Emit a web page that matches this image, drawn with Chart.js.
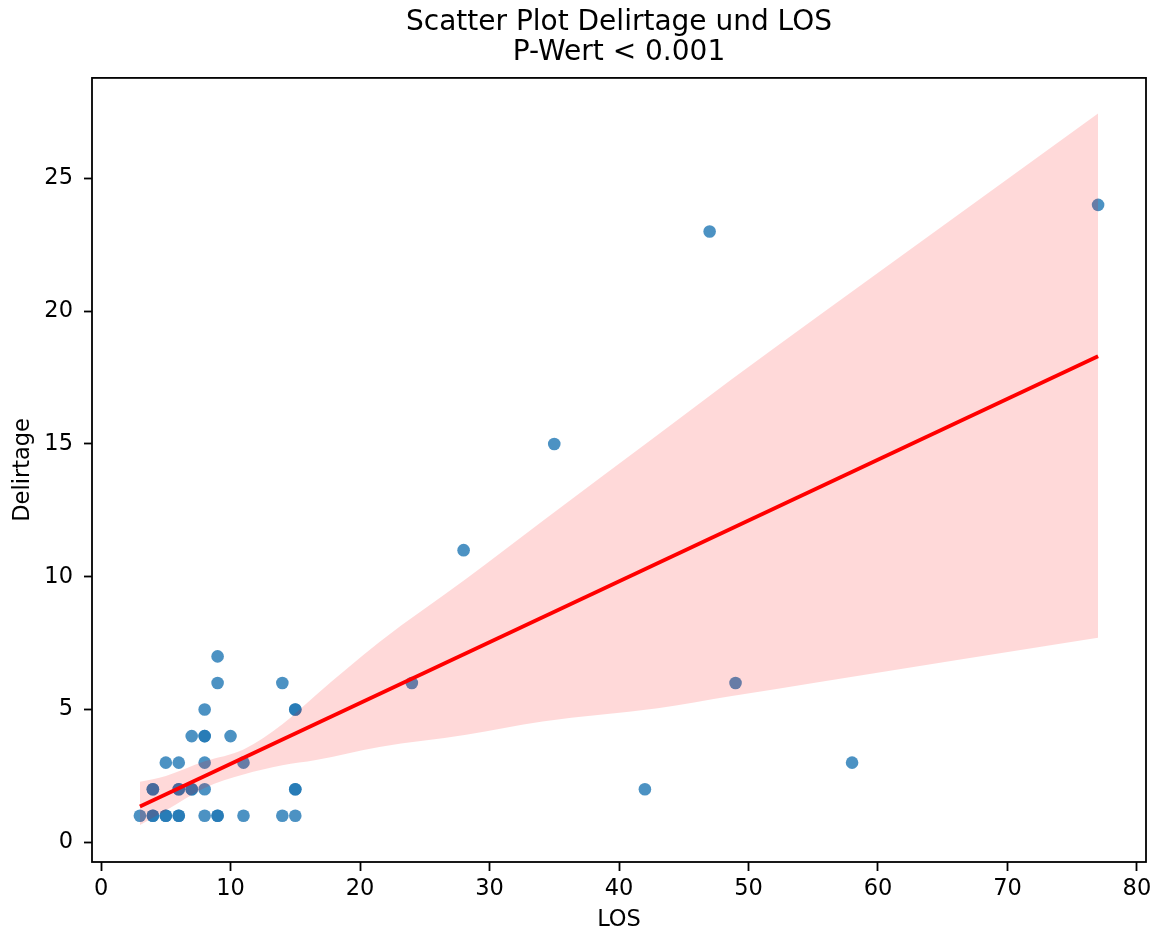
<!DOCTYPE html>
<html>
<head>
<meta charset="utf-8">
<script src="https://cdn.jsdelivr.net/npm/chart.js@4"></script>
<style>
  html, body { margin: 0; padding: 0; background: #fff; }
  #wrap { width: 1159px; height: 934px; }
</style>
</head>
<body>
<div id="wrap"><canvas id="plot" width="1159" height="934"></canvas></div>
<script>
// LOS (days) and Delirtage per patient
const los = [3, 4, 4, 5, 5, 6, 6, 8, 9, 9, 11, 14, 15,
             4, 4, 6, 6, 7, 7, 8, 15, 15, 42,
             5, 6, 8, 11, 58,
             7, 8, 8, 10,
             8, 15, 15,
             9, 14, 24, 49,
             9, 28, 35, 47, 77];
const delirtage = [1, 1, 1, 1, 1, 1, 1, 1, 1, 1, 1, 1, 1,
                   2, 2, 2, 2, 2, 2, 2, 2, 2, 2,
                   3, 3, 3, 3, 3,
                   4, 4, 4, 4,
                   5, 5, 5,
                   6, 6, 6, 6,
                   7, 11, 15, 23, 24];

// fitted regression line (endpoints)
const fitX = [3, 77];
const fitY = [1.35, 18.3];

// confidence band
const bandX = [3, 5, 8, 11, 14, 16.6, 21.5, 28.2, 34.1, 43, 48.6, 55.5, 77];
const bandUpper = [2.28, 2.5, 3.05, 3.5, 4.45, 5.55, 7.54, 9.92, 12.1, 15.35, 17.4, 19.85, 27.44];
const bandLower = [0.65, 1.2, 2.05, 2.55, 2.9, 3.1, 3.59, 4.05, 4.55, 5.05, 5.5, 6.04, 7.7];

const xTicks = [0, 10, 20, 30, 40, 50, 60, 70, 80];
const yTicks = [0, 5, 10, 15, 20, 25];

const zip = (xs, ys) => xs.map((x, i) => ({ x: x, y: ys[i] }));

const font = "'DejaVu Sans', sans-serif";
const ink = "#000";

// matplotlib-style box around the axes
const frame = {
    id: "frame",
    afterDraw(chart) {
        const a = chart.chartArea;
        const c = chart.ctx;
        c.save();
        c.strokeStyle = ink;
        c.lineWidth = 1.8;
        c.strokeRect(a.left, a.top, a.right - a.left, a.bottom - a.top);
        c.restore();
    }
};

new Chart(document.getElementById("plot"), {
    type: "scatter",
    data: {
        datasets: [
            {
                type: "line",
                data: zip(fitX, fitY),
                borderColor: "rgb(255, 0, 0)",
                borderWidth: 3.8,
                pointRadius: 0,
                fill: false
            },
            {
                type: "line",
                data: zip(bandX, bandUpper),
                borderWidth: 0,
                borderColor: "rgba(0,0,0,0)",
                pointRadius: 0,
                cubicInterpolationMode: "monotone",
                backgroundColor: "rgba(255, 0, 0, 0.15)",
                fill: "+1"
            },
            {
                type: "line",
                data: zip(bandX, bandLower),
                borderWidth: 0,
                borderColor: "rgba(0,0,0,0)",
                pointRadius: 0,
                cubicInterpolationMode: "monotone",
                fill: false
            },
            {
                data: zip(los, delirtage),
                backgroundColor: "rgba(31, 119, 180, 0.8)",
                borderColor: "rgba(31, 119, 180, 0.8)",
                borderWidth: 0,
                pointRadius: 6.3
            }
        ]
    },
    options: {
        responsive: false,
        animation: false,
        layout: { padding: { left: 0, right: 13, top: 0, bottom: 0 } },
        plugins: {
            legend: { display: false },
            tooltip: { enabled: false },
            title: {
                display: true,
                fullSize: false,
                text: ["Scatter Plot Delirtage und LOS", "P-Wert < 0.001"],
                color: ink,
                font: { family: font, size: 28, weight: "normal", lineHeight: 1.07 },
                padding: { top: 8, bottom: 10 }
            }
        },
        scales: {
            x: {
                type: "linear",
                min: -0.7,
                max: 80.7,
                afterBuildTicks: s => { s.ticks = xTicks.map(v => ({ value: v })); },
                afterFit: s => { s.height = 72; },
                border: { display: false },
                grid: { drawOnChartArea: false, drawTicks: true, tickLength: 9, tickWidth: 1.8, color: ink },
                ticks: { color: ink, font: { family: font, size: 22.5 }, padding: 5, maxRotation: 0 },
                title: { display: true, text: "LOS", color: ink, font: { family: font, size: 22.5 }, padding: { top: 0, bottom: 0 } }
            },
            y: {
                type: "linear",
                min: -0.74,
                max: 28.78,
                afterBuildTicks: s => { s.ticks = yTicks.map(v => ({ value: v })); },
                afterFit: s => { s.width = 92; },
                border: { display: false },
                grid: { drawOnChartArea: false, drawTicks: true, tickLength: 8, tickWidth: 1.8, color: ink },
                ticks: { color: ink, font: { family: font, size: 22.5 }, padding: 11 },
                title: { display: true, text: "Delirtage", color: ink, font: { family: font, size: 22.5 }, padding: { top: 10, bottom: 0 } }
            }
        }
    },
    plugins: [frame]
});
</script>
</body>
</html>
